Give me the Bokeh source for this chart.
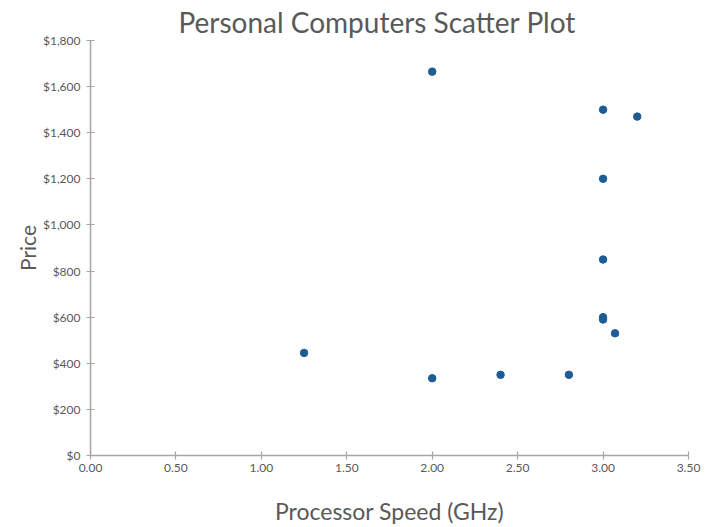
from bokeh.plotting import figure
from bokeh.models import ColumnDataSource, FixedTicker, NumeralTickFormatter, Range1d
from bokeh.embed import file_html
from bokeh.resources import INLINE

speed = [2.00, 3.00, 3.20, 3.00, 3.00, 3.00, 3.00, 3.07, 1.25, 2.00, 2.40, 2.80]
price = [1665, 1500, 1470, 1200, 850, 600, 590, 530, 445, 335, 350, 350]
x_ticks = [0.0, 0.5, 1.0, 1.5, 2.0, 2.5, 3.0, 3.5]
y_ticks = [0, 200, 400, 600, 800, 1000, 1200, 1400, 1600, 1800]

FONT = "Lato"
GREY = "#595959"

src = ColumnDataSource(dict(x=speed, y=price))

p = figure(width=706, height=527, output_backend="svg", toolbar_location=None,
           x_range=Range1d(0, 3.5), y_range=Range1d(0, 1800),
           min_border_left=90, min_border_right=18, min_border_top=40, min_border_bottom=72,
           title="Personal Computers Scatter Plot")

p.scatter("x", "y", source=src, size=7.5, color="#1f5c96")

p.title.align = "left"
p.title.text_font = FONT
p.title.text_font_size = "28px"
p.title.text_font_style = "normal"
p.title.text_color = GREY
p.title.offset = 88
p.title.standoff = 4

p.grid.visible = False
p.outline_line_color = None
p.background_fill_color = "white"
p.border_fill_color = "white"

for ax in (p.xaxis[0], p.yaxis[0]):
    ax.axis_line_color = "#a6a6a6"
    ax.axis_line_width = 1.5
    ax.major_tick_line_color = "#a6a6a6"
    ax.major_tick_line_width = 1.2
    ax.major_tick_in = 4
    ax.major_tick_out = 4
    ax.minor_tick_line_color = None
    ax.major_label_text_font = FONT
    ax.major_label_text_font_size = "12px"
    ax.major_label_text_color = GREY
    ax.axis_label_text_font = FONT
    ax.axis_label_text_font_style = "normal"
    ax.axis_label_text_color = GREY

p.xaxis[0].ticker = FixedTicker(ticks=x_ticks)
p.xaxis[0].formatter = NumeralTickFormatter(format="0.00")
p.xaxis[0].axis_label = "Processor Speed (GHz)"
p.xaxis[0].axis_label_text_font_size = "23px"
p.xaxis[0].axis_label_standoff = 22
p.xaxis[0].major_label_standoff = 4

p.yaxis[0].ticker = FixedTicker(ticks=y_ticks)
p.yaxis[0].formatter = NumeralTickFormatter(format="$0,0")
p.yaxis[0].axis_label = "Price"
p.yaxis[0].axis_label_text_font_size = "21px"
p.yaxis[0].axis_label_standoff = 0
p.yaxis[0].major_label_standoff = 6

open("out.html", "w").write(file_html(p, INLINE))
